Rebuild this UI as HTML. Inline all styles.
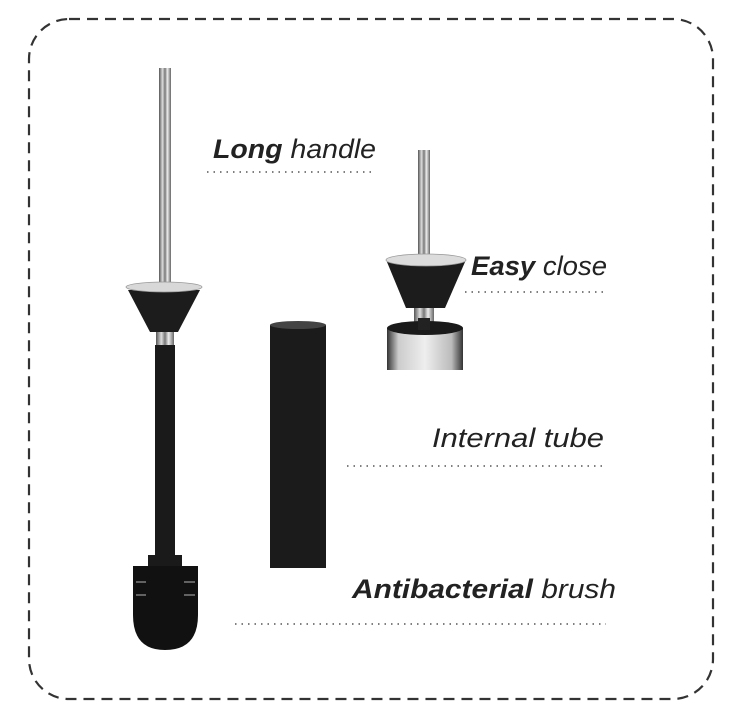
<!DOCTYPE html>
<html><head><meta charset="utf-8"><style>
html,body{margin:0;padding:0;background:#fff;}
svg{display:block}
text{font-family:"Liberation Sans",sans-serif;font-style:italic;fill:#222;font-size:27px}
.b{font-weight:bold}
</style></head><body>
<svg width="744" height="718" viewBox="0 0 744 718" xmlns="http://www.w3.org/2000/svg">
<defs>
<linearGradient id="steel" x1="0" x2="1" y1="0" y2="0">
<stop offset="0" stop-color="#555"/><stop offset="0.3" stop-color="#ddd"/><stop offset="0.5" stop-color="#777"/><stop offset="0.7" stop-color="#eee"/><stop offset="1" stop-color="#666"/>
</linearGradient>
<linearGradient id="cyl" x1="0" x2="1"><stop offset="0" stop-color="#333"/><stop offset="0.15" stop-color="#ccc"/><stop offset="0.5" stop-color="#eee"/><stop offset="0.85" stop-color="#bbb"/><stop offset="1" stop-color="#333"/></linearGradient>
</defs>
<rect x="29" y="19" width="684" height="680" rx="40" fill="none" stroke="#333" stroke-width="2.2" stroke-dasharray="11 7"/>

<!-- long brush -->
<rect x="159" y="68" width="12" height="220" fill="url(#steel)"/>
<polygon points="128,290 200,290 178,332 150,332" fill="#1c1c1c"/>
<ellipse cx="164" cy="287" rx="38" ry="5" fill="#d8d8d8" stroke="#999" stroke-width="0.8"/>
<rect x="156" y="332" width="18" height="14" fill="url(#steel)"/>
<rect x="155" y="345" width="20" height="212" fill="#1a1a1a"/>
<rect x="148" y="555" width="34" height="12" fill="#1a1a1a"/>
<path d="M133 566 H198 V615 Q198 650 165 650 Q133 650 133 615 Z" fill="#111"/>
<g stroke="#999" stroke-width="1.2">
<line x1="136" y1="582" x2="146" y2="582"/><line x1="184" y1="582" x2="195" y2="582"/>
<line x1="136" y1="595" x2="146" y2="595"/><line x1="184" y1="595" x2="195" y2="595"/>
</g>

<!-- small top -->
<rect x="418" y="150" width="12" height="112" fill="url(#steel)"/>
<polygon points="387,262 465,262 445,308 406,308" fill="#1c1c1c"/>
<ellipse cx="426" cy="260" rx="40" ry="6" fill="#dcdcdc" stroke="#999" stroke-width="0.8"/>
<rect x="414" y="308" width="20" height="16" fill="url(#steel)"/>
<rect x="387" y="328" width="76" height="42" fill="url(#cyl)"/>
<ellipse cx="425" cy="328" rx="38" ry="7" fill="#1a1a1a"/>
<rect x="418" y="318" width="12" height="12" fill="#222"/>

<!-- tube -->
<rect x="270" y="325" width="56" height="243" fill="#1b1b1b"/>
<ellipse cx="298" cy="325" rx="28" ry="4" fill="#444"/>

<!-- labels -->
<text x="213" y="158" textLength="163" lengthAdjust="spacingAndGlyphs"><tspan class="b">Long</tspan> handle</text>
<line x1="207" y1="172" x2="371" y2="172" stroke="#555" stroke-width="1.5" stroke-dasharray="1.5 5"/>
<text x="471" y="275" textLength="136" lengthAdjust="spacingAndGlyphs"><tspan class="b">Easy</tspan> close</text>
<line x1="465" y1="292" x2="605" y2="292" stroke="#555" stroke-width="1.5" stroke-dasharray="1.5 5"/>
<text x="432" y="447" textLength="172" lengthAdjust="spacingAndGlyphs">Internal tube</text>
<line x1="347" y1="466" x2="606" y2="466" stroke="#555" stroke-width="1.5" stroke-dasharray="1.5 5"/>
<text x="352" y="598" textLength="264" lengthAdjust="spacingAndGlyphs"><tspan class="b">Antibacterial</tspan> brush</text>
<line x1="235" y1="624" x2="606" y2="624" stroke="#555" stroke-width="1.5" stroke-dasharray="1.5 5"/>
</svg>
</body></html>
